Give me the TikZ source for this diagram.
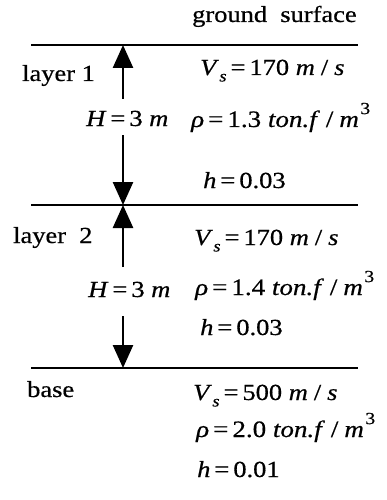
\documentclass[tikz,border=0pt]{standalone}
\usepackage{fontspec}
\setmainfont{Liberation Serif}[FakeStretch=1.15,FakeBold=0.6]
\usetikzlibrary{arrows.meta}
\newcommand{\sub}[1]{\kern0.5pt\raisebox{-0.28em}{\fontsize{16}{16}\selectfont\itshape #1}}
\newcommand{\sups}[1]{\kern1.5pt\raisebox{0.55em}{\fontsize{17}{17}\selectfont #1}}
\newcommand{\eq}{\kern4pt=\kern4pt\ignorespaces}
\newcommand{\sla}{\kern6pt/\kern6pt\ignorespaces}
\tikzset{
  lbl/.style={anchor=base west, inner sep=0pt, font=\fontsize{23}{28}\selectfont},
  wide/.style={lbl, font=\fontsize{23.5}{28}\selectfont},
  layerline/.style={line width=2.4pt},
  dim/.style={line width=2.6pt, -{Triangle[length=23pt,width=20pt]}}
}
\begin{document}
\begin{tikzpicture}[x=1pt,y=-1pt]
\useasboundingbox (0,0) rectangle (386,500);
% layer lines
\coordinate (L1a) at (31,45);  \coordinate (L1b) at (358,45);
\coordinate (L2a) at (31,205); \coordinate (L2b) at (358,205);
\coordinate (L3a) at (31,368); \coordinate (L3b) at (358,368);
\draw[layerline] (L1a) -- (L1b);
\draw[layerline] (L2a) -- (L2b);
\draw[layerline] (L3a) -- (L3b);
% dimension arrows
\coordinate (A1s) at (123,99);  \coordinate (A1t) at (123,45);
\coordinate (A2s) at (123,135); \coordinate (A2t) at (123,205);
\coordinate (A3s) at (123,267); \coordinate (A3t) at (123,205);
\coordinate (A4s) at (123,316); \coordinate (A4t) at (123,368);
\draw[dim] (A1s) -- (A1t);
\draw[dim] (A2s) -- (A2t);
\draw[dim] (A3s) -- (A3t);
\draw[dim] (A4s) -- (A4t);
% texts
\node[lbl] (gs) at (192,22) {ground\ \ surface};
\node[lbl] (l1) at (22,81) {layer 1};
\node[lbl] (v1) at (200,75) {\textit{V}\sub{s}\eq 170 \textit{m}\sla\textit{s}};
\node[lbl] (H1) at (86,126) {\textit{H}\eq 3 \textit{m}};
\node[wide] (r1) at (191,127) {\textit{ρ}\eq 1.3 \textit{ton.f}\sla\textit{m}\sups{3}};
\node[lbl] (h1) at (203,188) {\textit{h}\eq 0.03};
\node[lbl] (l2) at (13,243) {layer\ \ 2};
\node[lbl] (v2) at (194,245) {\textit{V}\sub{s}\eq 170 \textit{m}\sla\textit{s}};
\node[lbl] (H2) at (88,297) {\textit{H}\eq 3 \textit{m}};
\node[wide] (r2) at (195,295) {\textit{ρ}\eq 1.4 \textit{ton.f}\sla\textit{m}\sups{3}};
\node[lbl] (h2) at (200,335) {\textit{h}\eq 0.03};
\node[lbl] (bs) at (27,397) {base};
\node[lbl] (v3) at (193,400) {\textit{V}\sub{s}\eq 500 \textit{m}\sla\textit{s}};
\node[wide] (r3) at (196,437) {\textit{ρ}\eq 2.0 \textit{ton.f}\sla\textit{m}\sups{3}};
\node[lbl] (h3) at (197,477) {\textit{h}\eq 0.01};
\end{tikzpicture}
\end{document}
